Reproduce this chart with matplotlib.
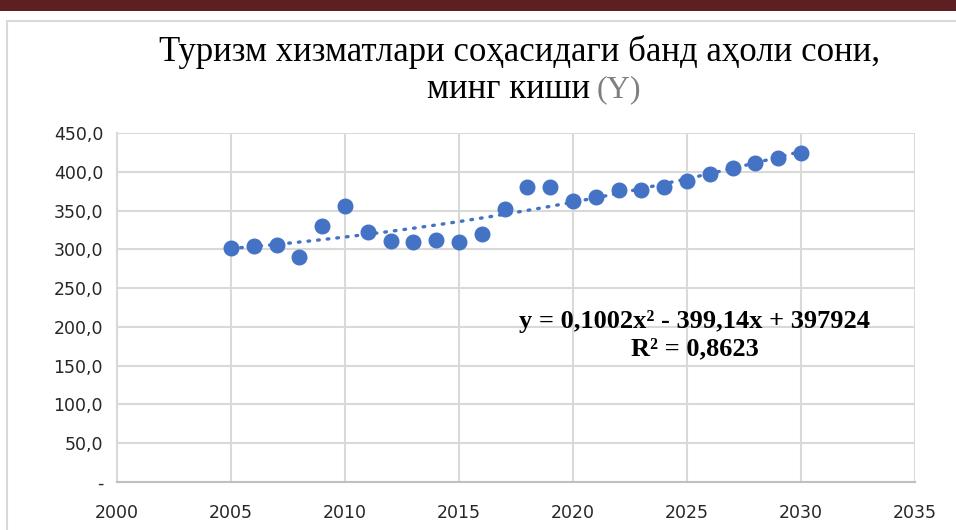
import numpy as np
import matplotlib
matplotlib.use("Agg")
import matplotlib.pyplot as plt
from matplotlib.ticker import FuncFormatter

# data
years = [2005, 2006, 2007, 2008, 2009, 2010, 2011, 2012, 2013, 2014, 2015, 2016, 2017,
         2018, 2019, 2020, 2021, 2022, 2023, 2024, 2025, 2026, 2027, 2028, 2029, 2030]
employed = [302, 304, 305, 290, 330, 356, 322, 311, 309, 312, 310, 320, 352,
            380, 381, 362, 367, 376, 377, 380, 388, 397, 405, 411, 418, 424]
x_ticks = [2000, 2005, 2010, 2015, 2020, 2025, 2030, 2035]
y_ticks = [0, 50, 100, 150, 200, 250, 300, 350, 400, 450]

title1 = "Туризм хизматлари соҳасидаги банд аҳоли сони,"
title2a = "минг киши"
title2b = "(Y)"
eq_text = "y = 0,1002x² - 399,14x + 397924"
r2_text = "R² = 0,8623"

W, H = 956, 530
fig = plt.figure(figsize=(W / 100, H / 100), dpi=100)
fig.patch.set_facecolor("white")

# dark red strip on top and chart frame
fig.add_artist(plt.Rectangle((0, 1 - 11 / H), 1, 11 / H, transform=fig.transFigure,
                             color="#5e1f22", lw=0))
fig.add_artist(plt.Rectangle((7 / W, -0.05), 1.1, 1 - 21 / H + 0.05, transform=fig.transFigure,
                             facecolor="none", edgecolor="#d9d9d9", lw=1.5))

ax = fig.add_axes([117 / W, 1 - 482 / H, (915 - 117) / W, (482 - 133) / H])

xs = np.array(years, dtype=float)
ys = np.array(employed, dtype=float)
coef = np.polyfit(xs - 2000, ys, 2)
xt = np.linspace(2005, 2030, 200)
ax.plot(xt, np.polyval(coef, xt - 2000), color="#4472c4", lw=2.4, ls=(0, (0.5, 2.4)),
        dash_capstyle="round", zorder=2)
ax.plot(years, employed, "o", color="#4472c4", ms=10.5, zorder=3)

ax.set_xlim(2000, 2035)
ax.set_ylim(0, 450)
ax.set_xticks(x_ticks)
ax.set_yticks(y_ticks)
ax.yaxis.set_major_formatter(FuncFormatter(lambda v, p: "-" if v == 0 else f"{v:.1f}".replace(".", ",")))
ax.grid(True, color="#d9d9d9", lw=1.5)
ax.set_axisbelow(True)
for s in ["top", "right"]:
    ax.spines[s].set_visible(False)
ax.spines["left"].set_color("#d9d9d9")
ax.spines["left"].set_linewidth(1.5)
ax.spines["bottom"].set_color("#bfbfbf")
ax.spines["bottom"].set_linewidth(1.5)
ax.tick_params(length=0, colors="#262626")
ax.tick_params(axis="y", pad=10, labelsize=12.5)
ax.tick_params(axis="x", pad=16, labelsize=12.5)

# title
serif = ["Liberation Serif", "DejaVu Serif"]
fig.text(520 / W, 1 - 52 / H, title1, ha="center", va="center", fontsize=25, family=serif)
fig.text(590 / W, 1 - 90 / H, title2a, ha="right", va="center", fontsize=25, family=serif)
fig.text(597 / W, 1 - 90 / H, title2b, ha="left", va="center", fontsize=23, family=serif,
         color="#7f7f7f")

# trendline equation
ax.text(2025.35, 207, eq_text, ha="center", va="center", fontsize=19, fontweight="bold",
        family=serif)
ax.text(2025.35, 172, r2_text, ha="center", va="center", fontsize=19, fontweight="bold",
        family=serif)

fig.savefig("out.png", dpi=100)
